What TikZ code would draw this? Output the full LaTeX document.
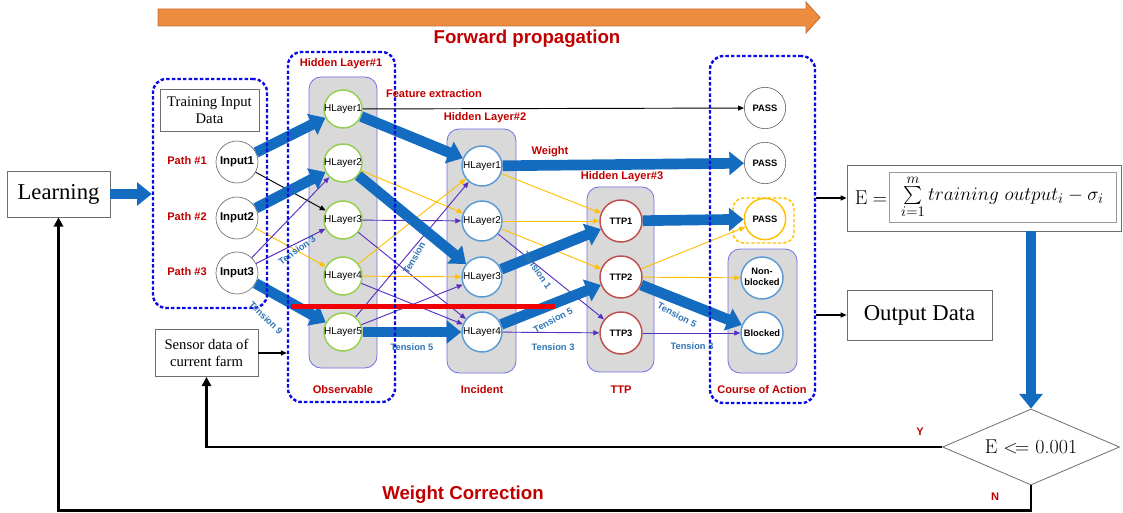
\documentclass[tikz,border=0pt]{standalone}
\usepackage{fontspec}
\usepackage{graphicx}
\usetikzlibrary{arrows.meta,shapes.geometric}
\newfontfamily\sansT{Liberation Sans}
\newfontfamily\serifT{Liberation Serif}
\newcommand\zerow[1]{\makebox[0pt]{#1}}
\newcommand\bigsumx{\mathop{\vcenter{\hbox{\scalebox{1.35}{$\sum$}}}}}
\definecolor{tblue}{RGB}{20,108,192}
\definecolor{dred}{RGB}{192,0,0}
\definecolor{lblue}{RGB}{46,117,182}
\definecolor{purp}{RGB}{88,48,192}
\definecolor{yel}{RGB}{255,192,0}
\definecolor{grn}{RGB}{146,208,80}
\definecolor{cblue}{RGB}{91,155,213}
\definecolor{cred}{RGB}{192,80,77}
\definecolor{gfill}{RGB}{217,217,217}
\definecolor{gbord}{RGB}{112,112,230}
\definecolor{dashb}{RGB}{10,10,230}
\definecolor{orng}{RGB}{237,139,63}
\definecolor{orngb}{RGB}{200,110,50}
\definecolor{boxg}{RGB}{110,110,110}
\definecolor{rline}{RGB}{240,0,0}
\begin{document}
\begin{tikzpicture}[x=0.75pt,y=-0.75pt,
  lbl/.style={font=\sansT\bfseries\fontsize{8.3}{10}\selectfont,text=dred,inner sep=0pt},
  biglbl/.style={font=\sansT\bfseries\fontsize{14}{16}\selectfont,text=dred,inner sep=0pt},
  tens/.style={font=\sansT\bfseries\fontsize{7}{8}\selectfont,text=lblue,inner sep=0pt},
  nd/.style={circle,fill=white,draw,line width=#1,inner sep=0pt},
  inN/.style={nd=0.5pt,draw=boxg,minimum size=31.5pt,font=\sansT\bfseries\fontsize{8.5}{9}\selectfont},
  hA/.style={nd=1.1pt,draw=grn,minimum size=28.5pt,font=\sansT\fontsize{7.5}{8}\selectfont},
  hB/.style={nd=1.1pt,draw=cblue,minimum size=30pt,font=\sansT\fontsize{7.5}{8}\selectfont},
  hC/.style={nd=1.1pt,draw=cred,minimum size=31.5pt,font=\sansT\bfseries\fontsize{7}{8}\selectfont},
  outN/.style={nd=0.5pt,draw=boxg,minimum size=31pt,font=\sansT\bfseries\fontsize{7}{8}\selectfont},
  grayR/.style={draw=gbord,line width=0.6pt,fill=gfill,rounded corners=9pt},
  dashbox/.style={draw=dashb,line width=1.8pt,dash pattern=on 2.6pt off 1.6pt,rounded corners=10pt,inner sep=0pt},
  plainbox/.style={draw=boxg,line width=0.6pt,fill=white,inner sep=0pt,align=center},
  thinA/.style={line width=0.7pt,-{Triangle[length=4.5pt,width=3.8pt]}},
  fat/.style={draw=tblue,line width=8pt,-{Triangle[length=11pt,width=17pt]}},
  bk/.style={line width=2.2pt,-{Triangle[length=7pt,width=7pt]}},
]
\useasboundingbox (0,0) rectangle (1123,513);

% forward propagation arrow
\draw[fill=orng,draw=orngb,line width=0.6pt] (158,9) -- (806,9) -- (806,2) -- (820,17.5) -- (806,33) -- (806,26) -- (158,26) -- cycle;
\node[biglbl] (fp) at (527,39) {Forward propagation};

% gray layer backgrounds
\draw[grayR] (309,77) rectangle (377,368);
\draw[grayR] (447,129) rectangle (516,373);
\draw[grayR] (587,187) rectangle (654,372);
\draw[grayR] (728,249) rectangle (797,373);
\draw[draw=yel,line width=1.1pt,dash pattern=on 2.5pt off 1.5pt,rounded corners=8pt] (733,198) rectangle (794,243);

% boxes
\node[plainbox,minimum width=77.25pt,minimum height=34.5pt,font=\serifT\fontsize{17}{20}\selectfont] (learn) at (58.5,194) {Learning};
\node[plainbox,minimum width=74.25pt,minimum height=31.5pt,font=\serifT\fontsize{11}{12.5}\selectfont] (train) at (209.5,110) {Training Input\\Data};
\node[plainbox,minimum width=77.25pt,minimum height=35.25pt,font=\serifT\fontsize{11}{12.5}\selectfont] (sensor) at (206.5,353) {Sensor data of\\current farm};
\node[plainbox,minimum width=108.75pt,minimum height=37.5pt,font=\serifT\fontsize{17}{20}\selectfont] (outd) at (919.5,315) {Output Data};
\node[plainbox,minimum width=205.5pt,minimum height=49.5pt] (form) at (984,198) {};
\node[draw=boxg!70,line width=0.5pt,minimum width=170.25pt,minimum height=37.5pt,inner sep=0pt,font=\fontsize{15}{18}\selectfont] (formin) at (1002.5,197) {$\bigsumx\limits_{i=1}^{m}training\ output_i-\sigma_i$};
\node[inner sep=0pt,font=\fontsize{15}{18}\selectfont] (eq) at (871,198) {$\mathrm{E}=$};
\node[diamond,draw=boxg,line width=0.6pt,fill=white,aspect=2.33,inner sep=0pt,minimum width=132.75pt,minimum height=57pt,font=\fontsize{15}{18}\selectfont] (dec) at (1031,447) {E $<\!=$ 0.001};

% input nodes
\node[inN] (in1) at (237,162) {\zerow{Input1}};
\node[inN] (in2) at (237,218) {\zerow{Input2}};
\node[inN] (in3) at (237,273) {\zerow{Input3}};
\node[lbl] at (187,161) {Path \#1};
\node[lbl] at (187,217) {Path \#2};
\node[lbl] at (187,272) {Path \#3};

% hidden layer 1
\node[hA] (h1a) at (343,109) {\zerow{HLayer1}};
\node[hA] (h1b) at (343,163) {\zerow{HLayer2}};
\node[hA] (h1c) at (343,220) {\zerow{HLayer3}};
\node[hA] (h1d) at (343,276) {\zerow{HLayer4}};
\node[hA] (h1e) at (343,332) {\zerow{HLayer5}};
% hidden layer 2
\node[hB] (h2a) at (482,166) {\zerow{HLayer1}};
\node[hB] (h2b) at (482,221) {\zerow{HLayer2}};
\node[hB] (h2c) at (482,277) {\zerow{HLayer3}};
\node[hB] (h2d) at (482,332) {\zerow{HLayer4}};
% hidden layer 3
\node[hC] (t1) at (621,221) {\zerow{TTP1}};
\node[hC] (t2) at (621,277) {\zerow{TTP2}};
\node[hC] (t3) at (621,333) {\zerow{TTP3}};
% outputs
\node[outN] (p1) at (765,108) {\zerow{PASS}};
\node[outN] (p2) at (765,163) {\zerow{PASS}};
\node[outN,draw=yel,line width=1.1pt] (p3) at (765,219) {\zerow{PASS}};
\node[hC,draw=cblue] (nb) at (762,278) {\zerow{\begin{tabular}{@{}c@{}}Non-\\blocked\end{tabular}}};
\node[hC,draw=cblue] (blk) at (762,333) {\zerow{Blocked}};

% thin connections
\draw[thinA] (in1) -- (h1c);
\draw[thinA,yel] (in2) -- (h1d);
\draw[thinA,purp] (in3) -- (h1b);
\draw[thinA,purp] (in3) -- (h1c);
\draw[thinA,yel] (h1b) -- (h2b);
\draw[thinA,purp] (h1c) -- (h2b);
\draw[thinA,purp] (h1c) -- (h2d);
\draw[thinA,yel] (h1d) -- (h2a);
\draw[thinA,yel] (h1d) -- (h2c);
\draw[thinA,purp] (h1d) -- (h2d);
\draw[thinA,purp] (h1e) -- (h2a);
\draw[thinA,purp] (h1e) -- (h2c);
\draw[thinA,yel] (h2a) -- (t1);
\draw[thinA,yel] (h2b) -- (t1);
\draw[thinA,yel] (h2b) -- (t2);
\draw[thinA,purp] (h2b) -- (t3);
\draw[thinA,purp] (h2d) -- (t3);
\draw[thinA,yel] (t2) -- (p3);
\draw[thinA,yel] (t2) -- (nb);
\draw[thinA,purp] (t3) -- (blk);
\draw[thinA] (h1a) -- (p1);

% thick connections
\draw[fat] (in1) -- (h1a);
\draw[fat] (in2) -- (h1b);
\draw[fat] (in3) -- (h1e);
\draw[fat] (h1a) -- (h2a);
\draw[fat] (h1b) -- (h2c);
\draw[fat] (h1e) -- (h2d);
\draw[fat] (h2a) -- (p2);
\draw[fat] (h2c) -- (t1);
\draw[fat] (h2d) -- (t2);
\draw[fat] (t1) -- (p3);
\draw[fat] (t2) -- (blk);

% red bar
\draw[rline,line width=3.75pt] (291,306) -- (555,306);

% dashed group boxes
\node[dashbox,minimum width=85.5pt,minimum height=171.75pt] (inbox) at (210,193.5) {};
\node[dashbox,minimum width=80.25pt,minimum height=262.5pt] (l1box) at (341.5,227) {};
\node[dashbox,minimum width=78.75pt,minimum height=260.25pt] (obox) at (762.5,229.5) {};

% flow connectors
\draw[fat,line width=7pt] (learn.east) -- (learn.east -| inbox.west);
\draw[fat,line width=7.5pt] (dec.north |- form.south) -- (dec.north);
\draw[thinA,line width=0.9pt] (sensor.east) -- (sensor.east -| l1box.west);
\draw[thinA,line width=0.9pt] (form.west -| obox.east) -- (form.west);
\draw[thinA,line width=0.9pt] (outd.west -| obox.east) -- (outd.west);
\draw[bk] (dec.west) -- (dec.west -| sensor.south) -- (sensor.south);
\draw[bk] (dec.south) -- ++(0,25) -| (learn.south);

% labels
\node[lbl] at (341,64) {Hidden Layer\#1};
\node[lbl] at (485,118) {Hidden Layer\#2};
\node[lbl] at (622,177) {Hidden Layer\#3};
\node[lbl] at (343,390) {Observable};
\node[lbl] at (482,390) {Incident};
\node[lbl] at (621,390) {TTP};
\node[lbl] at (762,390) {Course of Action};
\node[lbl] at (434,94) {Feature extraction};
\node[lbl] at (550,152) {Weight};
\node[lbl] at (920,432) {Y};
\node[lbl] at (995,497) {N};
\node[biglbl] at (463,495) {Weight Correction};

% tension labels
\node[tens,rotate=35] at (297,250) {Tension 3};
\node[tens,rotate=-45] at (266,318) {Tension 9};
\node[tens,rotate=60] at (414,258) {Tension};
\node[tens] at (412,347) {Tension 5};
\node[tens,rotate=-55] at (537,270) {Tension 1};
\node[tens,rotate=28] at (553,320) {Tension 5};
\node[tens] at (553,347) {Tension 3};
\node[tens,rotate=-28] at (677,315) {Tension 5};
\node[tens] at (692,346) {Tension 3};
\end{tikzpicture}
\end{document}
